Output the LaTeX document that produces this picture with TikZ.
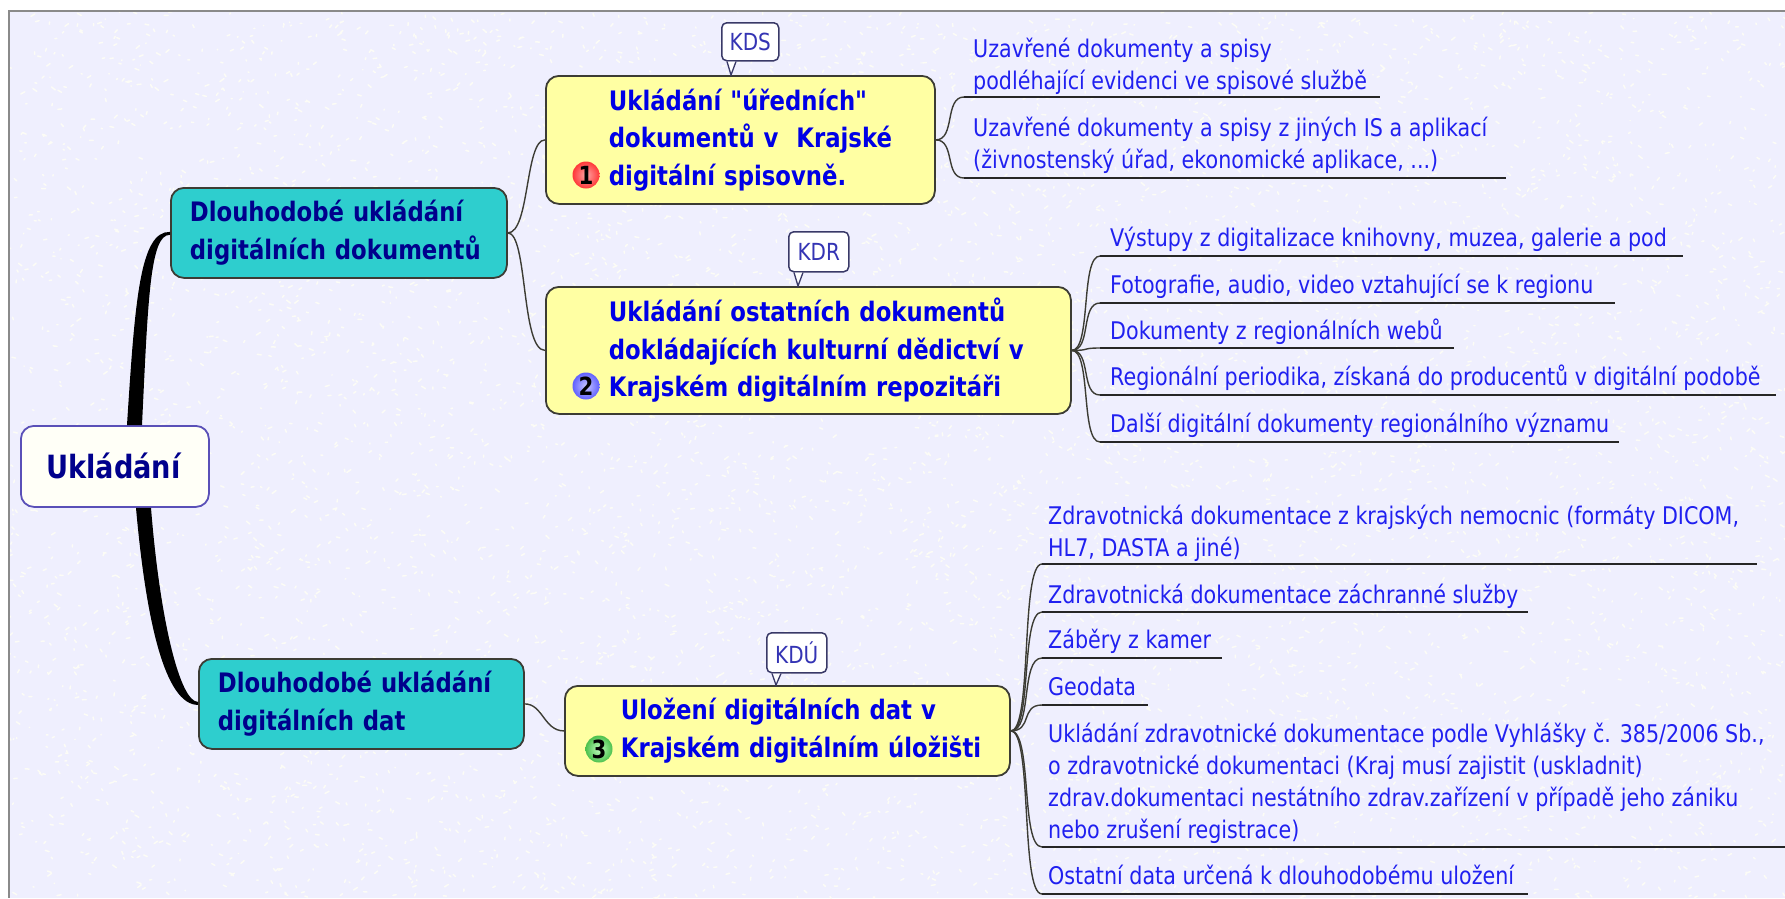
\documentclass[tikz,border=0pt]{standalone}
\usepackage{fontspec}
\setmainfont[FakeStretch=0.85,Ligatures=TeXOff]{DejaVu Sans}
\usetikzlibrary{calc}
\definecolor{panelbg}{HTML}{EFEFFE}
\definecolor{specklec}{HTML}{FCFCF6}
\definecolor{framec}{HTML}{8A8A8A}
\definecolor{yellowfill}{HTML}{FFFFA3}
\definecolor{tealfill}{HTML}{2ECECE}
\definecolor{edgec}{HTML}{3C3C34}
\definecolor{navytext}{HTML}{00008C}
\definecolor{bluetext}{HTML}{0000E6}
\definecolor{leaftextc}{HTML}{2020F0}
\definecolor{rootedge}{HTML}{5A50B8}
\definecolor{calloutc}{HTML}{3434B4}
\tikzset{
  x=1pt,y=-1pt,
  boxbase/.style={rounded corners=13pt,draw=edgec,line width=1.8pt,inner sep=0pt,anchor=north west,align=left},
  tealbox/.style={boxbase,fill=tealfill,text=navytext,font=\fontsize{26.8}{37.5}\selectfont\bfseries},
  yellowbox/.style={boxbase,fill=yellowfill,text=bluetext,font=\fontsize{26.8}{37.5}\selectfont\bfseries},
  rootbox/.style={boxbase,fill=white!97!yellow,draw=rootedge,text=navytext,align=center,font=\fontsize{32}{40}\selectfont\bfseries},
  calloutbox/.style={rounded corners=5pt,draw=edgec!60!calloutc,fill=white,line width=1.5pt,inner sep=0pt,text=calloutc,font=\fontsize{23.5}{25}\selectfont,anchor=north west},
  badge/.style={circle,minimum size=27pt,inner sep=0pt,text=black,font=\fontsize{25}{25}\selectfont\bfseries},
  leaftext/.style={inner sep=0pt,anchor=south west,align=left,text=leaftextc,font=\fontsize{24.3}{32}\selectfont},
  conn/.style={draw=edgec,line width=1.4pt},
  uline/.style={draw=black!85,line width=1.8pt},
}
\newcommand{\leafitem}[8][0]{% [text shift], name, origin, xstart, xend, y, xtext, text
  \coordinate (#2-s) at (#4,#6);
  \coordinate (#2-e) at (#5,#6);
  \node[leaftext] (#2) at (#7,#6+#1) {#8\strut};
  \draw[conn] (#3) .. controls ($(#3)!0.7!(#2-s|-#3)$) and ($(#2-s)!0.7!(#2-s-|#3)$) .. (#2-s);
  \draw[uline] (#2-s) -- (#2-e);
}
\begin{document}
\begin{tikzpicture}
\useasboundingbox (0,0) rectangle (1785,898);
\fill[white] (0,0) rectangle (1785,898);
\begin{scope}
\clip (9,11) rectangle (1785,898);
\fill[panelbg] (9,11) rectangle (1785,898);
\pgfmathsetseed{7}
\draw[specklec,line width=1.5pt,line cap=round]
  \foreach \i in {1,...,7000}{ ({9+1776*rnd},{11+887*rnd}) -- ++({-4+8*rnd},{-3+6*rnd}) };
\end{scope}
\draw[framec,line width=1.2pt] (1785,11) -- (9,11) -- (9,898);

% boxes
\node[rootbox,minimum width=188pt,minimum height=81pt] (root) at (20,425) {\raisebox{2pt}{Ukládání}\hspace*{3pt}};
\node[tealbox,minimum width=336pt,minimum height=90pt,text width=336pt] (t1) at (170,187) {\hspace*{19pt}Dlouhodobé ukládání\\\hspace*{19pt}digitálních dokumentů};
\node[tealbox,minimum width=325pt,minimum height=90pt,text width=325pt] (t2) at (198,658) {\hspace*{19pt}Dlouhodobé ukládání\\\hspace*{19pt}digitálních dat};
\node[yellowbox,minimum width=389pt,minimum height=128pt,text width=389pt] (y1) at (545,75) {\hspace*{63pt}Ukládání "úředních"\\\hspace*{63pt}dokumentů v\ \ Krajské\\\hspace*{63pt}digitální spisovně.};
\node[yellowbox,minimum width=525pt,minimum height=127pt,text width=525pt] (y2) at (545,286) {\hspace*{63pt}Ukládání ostatních dokumentů\\\hspace*{63pt}dokládajících kulturní dědictví v\\\hspace*{63pt}Krajském digitálním repozitáři};
\node[yellowbox,minimum width=445pt,minimum height=90pt,text width=445pt] (y3) at (564,685) {\hspace*{56pt}Uložení digitálních dat v\\\hspace*{56pt}Krajském digitálním úložišti};

% badges
\node[badge,inner color=red!35!white,outer color=red!78!white] (b1) at (586,175) {1};
\node[badge,inner color=blue!22!white,outer color=blue!62!white] (b2) at (586,386) {2};
\node[badge,inner color=green!25!white,outer color=green!65!black!70!white] (b3) at (599,749) {3};

% callouts
\coordinate (k1tip) at (731,75);
\coordinate (k2tip) at (798,286);
\coordinate (k3tip) at (776,685);
\node[calloutbox,minimum width=57pt,minimum height=38pt] (k1) at (721,22) {KDS};
\node[calloutbox,minimum width=60pt,minimum height=40pt] (k2) at (788,231) {KDR};
\node[calloutbox,minimum width=60pt,minimum height=40pt] (k3) at (766,632) {KDÚ};
\draw[edgec!60!calloutc,fill=white,line width=1.3pt] ($(k1.south west)+(6,0)$) -- (k1tip) -- ($(k1.south west)+(15,0)$);
\draw[edgec!60!calloutc,fill=white,line width=1.3pt] ($(k2.south west)+(6,0)$) -- (k2tip) -- ($(k2.south west)+(15,0)$);
\draw[edgec!60!calloutc,fill=white,line width=1.3pt] ($(k3.south west)+(6,0)$) -- (k3tip) -- ($(k3.south west)+(15,0)$);

% thick main branches
\fill[black] ($(root.north west)+(107,0)$) .. controls ($(root.north west)+(115,-125)$) and ($(t1.west)+(-30,-2)$) .. ($(t1.west)+(0,-1)$)
  -- ($(t1.west)+(0,2)$) .. controls ($(t1.west)+(-20,1)$) and ($(root.north west)+(128,-125)$) .. ($(root.north west)+(122,0)$) -- cycle;
\fill[black] ($(root.south west)+(116,0)$) .. controls ($(root.south west)+(126,113)$) and ($(t2.west)+(-33,1)$) .. ($(t2.west)+(0,1)$)
  -- ($(t2.west)+(0,-2)$) .. controls ($(t2.west)+(-18,-2)$) and ($(root.south west)+(140,113)$) .. ($(root.south west)+(131,0)$) -- cycle;

% branches between boxes
\draw[conn] (t1.east) .. controls ($(t1.east)+(22,0)$) and ($(y1.west)+(-20,0)$) .. (y1.west);
\draw[conn] (t1.east) .. controls ($(t1.east)+(20,0)$) and ($(y2.west)+(-24,0)$) .. (y2.west);
\draw[conn] (t2.east) .. controls ($(t2.east)+(18,0)$) and ($(y3.west)+(-20,0)$) .. (y3.west);

% leaves
\leafitem[2]{a1}{y1.east}{964}{1380}{97}{973}{Uzavřené dokumenty a spisy\\podléhající evidenci ve spisové službě}
\leafitem{a2}{y1.east}{964}{1506}{178}{973}{Uzavřené dokumenty a spisy z jiných IS a aplikací\\(živnostenský úřad, ekonomické aplikace, ...)}
\leafitem{c1}{y2.east}{1100}{1683}{256}{1110}{Výstupy z digitalizace knihovny, muzea, galerie a pod}
\leafitem{c2}{y2.east}{1100}{1615}{303}{1110}{Fotografie, audio, video vztahující se k regionu}
\leafitem[1]{c3}{y2.east}{1100}{1454}{348}{1110}{Dokumenty z regionálních webů}
\leafitem{c4}{y2.east}{1100}{1776}{395}{1110}{Regionální periodika, získaná do producentů v digitální podobě}
\leafitem{c5}{y2.east}{1100}{1619}{442}{1110}{Další digitální dokumenty regionálního významu}
\leafitem[2]{d1}{y3.east}{1042}{1757}{564}{1048}{Zdravotnická dokumentace z krajských nemocnic (formáty DICOM,\\HL7, DASTA a jiné)}
\leafitem[1]{d2}{y3.east}{1042}{1528}{612}{1048}{Zdravotnická dokumentace záchranné služby}
\leafitem{d3}{y3.east}{1042}{1222}{658}{1048}{Záběry z kamer}
\leafitem{d4}{y3.east}{1042}{1148}{705}{1048}{Geodata}
\leafitem[1]{d5}{y3.east}{1042}{1785}{847}{1048}{Ukládání zdravotnické dokumentace podle Vyhlášky č. 385/2006 Sb.,\\o zdravotnické dokumentaci (Kraj musí zajistit (uskladnit)\\zdrav.dokumentaci nestátního zdrav.zařízení v případě jeho zániku\\nebo zrušení registrace)}
\leafitem{d6}{y3.east}{1042}{1528}{894}{1048}{Ostatní data určená k dlouhodobému uložení}
\end{tikzpicture}
\end{document}
